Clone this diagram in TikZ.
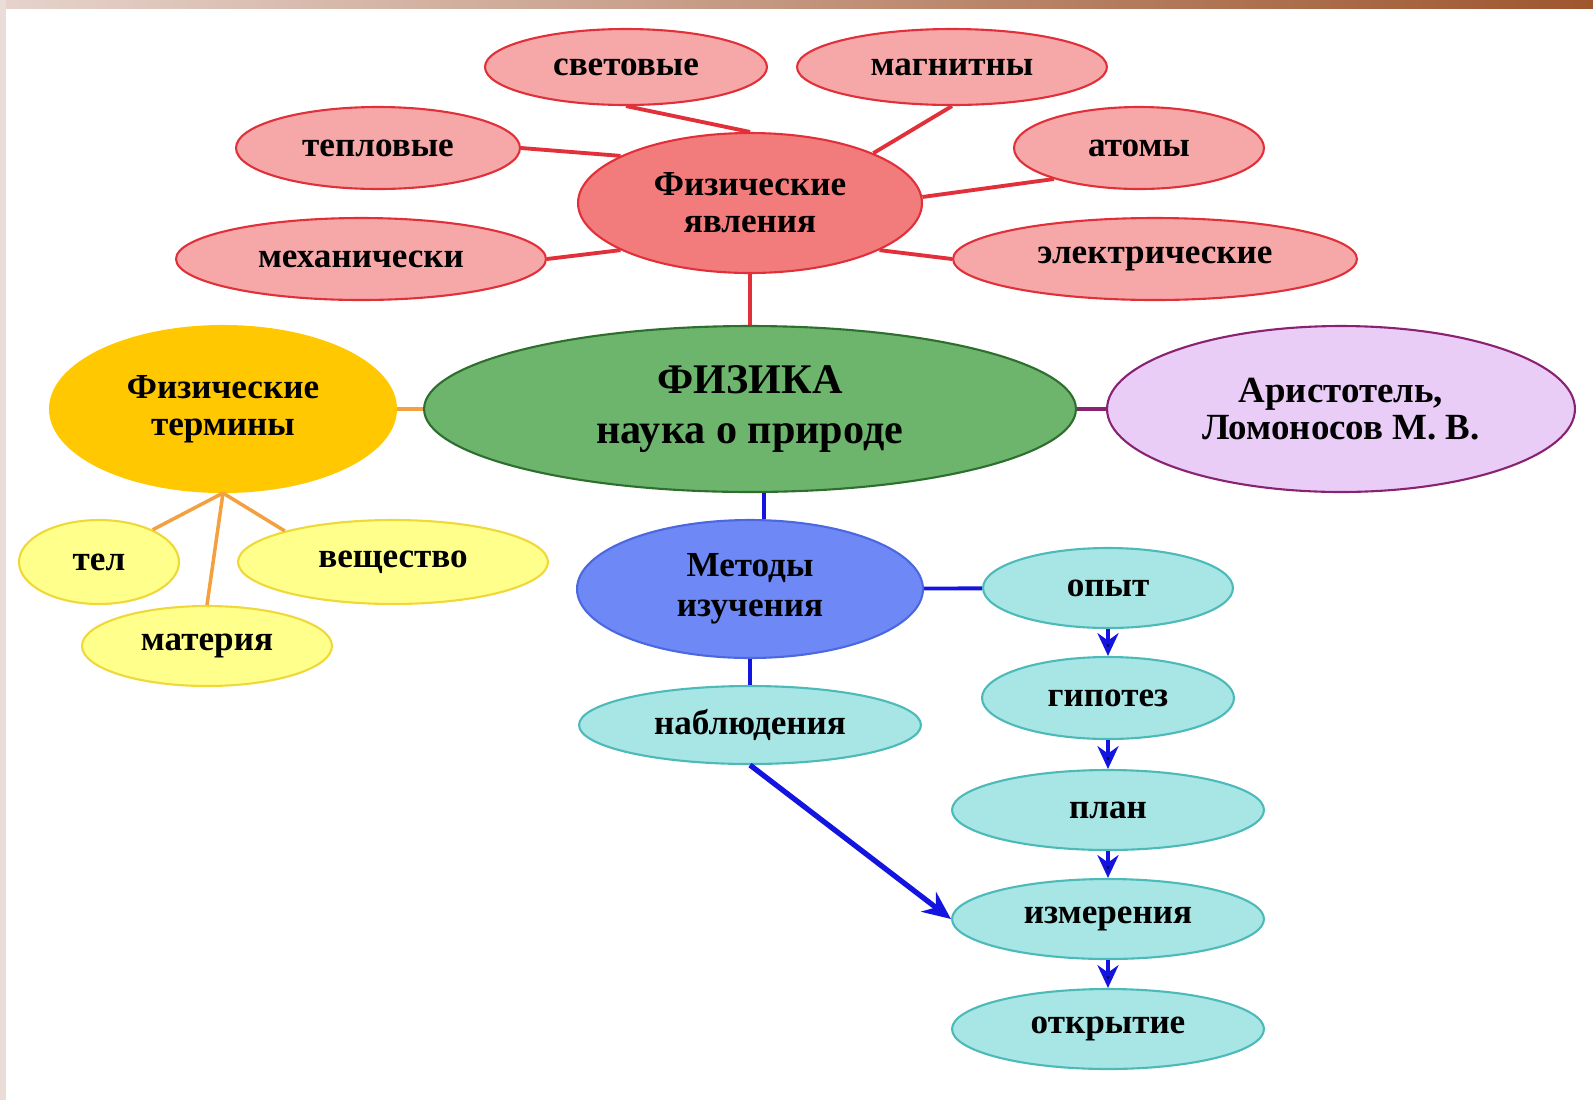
\documentclass[tikz,border=0pt]{standalone}
\usepackage{fontspec}
\setmainfont{Liberation Serif}
\usetikzlibrary{arrows.meta,shapes.geometric,calc}

\definecolor{phenline}{HTML}{E2303A}
\definecolor{phenfill}{HTML}{F6A8A8}
\definecolor{phencore}{HTML}{F27C7C}
\definecolor{physfill}{HTML}{6DB56D}
\definecolor{physline}{HTML}{2E6E2E}
\definecolor{termfill}{HTML}{FFC800}
\definecolor{termleaf}{HTML}{FFFF8C}
\definecolor{termline}{HTML}{F0D838}
\definecolor{termlink}{HTML}{F2A040}
\definecolor{namefill}{HTML}{EACDF7}
\definecolor{nameline}{HTML}{8A2272}
\definecolor{methfill}{HTML}{6E88F6}
\definecolor{methline}{HTML}{4B68E0}
\definecolor{stepfill}{HTML}{A8E5E5}
\definecolor{stepline}{HTML}{4DBABA}
\definecolor{bluelink}{HTML}{1414E0}
\definecolor{stripleft}{HTML}{E6D3CC}
\definecolor{stripmid}{HTML}{D2B2A2}
\definecolor{stripright}{HTML}{9E562E}
\definecolor{sideband}{HTML}{EADCD7}

\begin{document}
\begin{tikzpicture}[x=0.02cm,y=-0.02cm,>={Stealth[length=13pt,width=12pt]},
    bubble/.style={ellipse,inner sep=0pt,align=center,line width=1.2pt,font=\bfseries\fontsize{20}{21}\selectfont},
    phen node/.style={bubble,draw=phenline,fill=phenfill},
    term node/.style={bubble,draw=termline,fill=termleaf},
    step node/.style={bubble,draw=stepline,fill=stepfill}]

    % frame of the slide
    \useasboundingbox (0,0) rectangle (1593,1100);
    \fill[white] (0,0) rectangle (1593,1100);
    \fill[left color=stripleft,middle color=stripmid,right color=stripright] (0,0) rectangle (1593,8);
    \fill[sideband] (0,0) rectangle (6,1100);

    \node[bubble,draw=physline,fill=physfill,minimum width=13.04cm,minimum height=3.32cm,font=\bfseries\fontsize{24}{28}\selectfont] (fz) at (750,409) {ФИЗИКА\\наука о природе};

    \node[bubble,draw=phenline,fill=phencore,minimum width=6.88cm,minimum height=2.8cm] (fy) at (750,203) {Физические\\явления};
    \node[phen node,minimum width=5.64cm,minimum height=1.52cm] (sv) at (626,67) {световые};
    \node[phen node,minimum width=6.2cm,minimum height=1.52cm] (mg) at (952,67) {магнитны};
    \node[phen node,minimum width=5.68cm,minimum height=1.64cm] (tp) at (378,148) {тепловые};
    \node[phen node,minimum width=5cm,minimum height=1.64cm] (at) at (1139,148) {атомы};
    \node[phen node,minimum width=7.4cm,minimum height=1.64cm] (mx) at (361,259) {механически};
    \node[phen node,minimum width=8.08cm,minimum height=1.64cm] (el) at (1155,259) {электрические};

    \node[bubble,draw=termfill,fill=termfill,minimum width=6.92cm,minimum height=3.32cm] (ft) at (223,409) {Физические\\термины};
    \node[term node,minimum width=3.2cm,minimum height=1.68cm] (tl) at (99,562) {тел};
    \node[term node,minimum width=6.2cm,minimum height=1.68cm] (vs) at (393,562) {вещество};
    \node[term node,minimum width=5cm,minimum height=1.6cm] (mat) at (207,646) {материя};

    \node[bubble,draw=nameline,fill=namefill,minimum width=9.36cm,minimum height=3.32cm,font=\bfseries\fontsize{21}{21}\selectfont] (ar) at (1341,409) {Аристотель,\\Ломоносов М. В.};

    \node[bubble,draw=methline,fill=methfill,minimum width=6.92cm,minimum height=2.76cm,font=\bfseries\fontsize{20}{23}\selectfont] (mt) at (750,589) {Методы\\изучения};
    \node[step node,minimum width=6.84cm,minimum height=1.56cm] (nb) at (750,725) {наблюдения};
    \node[step node,minimum width=5cm,minimum height=1.6cm] (op) at (1108,588) {опыт};
    \node[step node,minimum width=5.04cm,minimum height=1.64cm] (gp) at (1108,698) {гипотез};
    \node[step node,minimum width=6.24cm,minimum height=1.6cm] (pl) at (1108,810) {план};
    \node[step node,minimum width=6.24cm,minimum height=1.6cm] (iz) at (1108,919) {измерения};
    \node[step node,minimum width=6.24cm,minimum height=1.6cm] (ot) at (1108,1029) {открытие};

    \path[draw=phenline,line width=2.2pt]
    (sv.south) edge (fy.north)
    (mg.south) edge (fy.22)
    (tp.east) edge (fy.160)
    (at.200) edge (fy.2)
    (mx.east) edge (fy.200)
    (el.west) edge (fy.-20)
    (fy) edge (fz);

    \path[draw=termlink,line width=2pt]
    (ft) edge (fz)
    (ft.south) edge (tl.31)
    (ft.south) edge (mat.north)
    (ft.south) edge (vs.164);

    \draw[nameline,line width=2pt] (fz) -- (ar);

    \path[draw=bluelink,line width=2.2pt]
    ($(fz.south)+(14,0)$) edge ($(mt.north)+(14,0)$)
    (mt) edge (op)
    (mt) edge (nb);

    \path[->,draw=bluelink,line width=2pt]
    (op) edge (gp)
    (gp) edge (pl)
    (pl) edge (iz)
    (iz) edge (ot);
    \draw[-{Stealth[length=16pt,width=14pt]},bluelink,line width=3pt] (nb.south) -- (iz.west);
\end{tikzpicture}
\end{document}
